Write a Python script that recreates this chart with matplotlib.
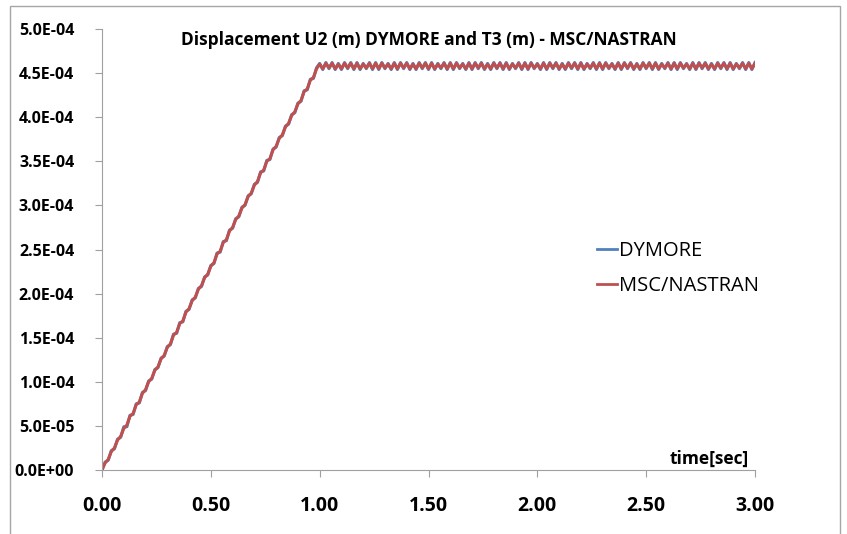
import matplotlib
matplotlib.use("Agg")
import matplotlib.pyplot as plt
import numpy as np
from matplotlib.patches import Rectangle

# time step of the samples (s): half period of the oscillation
dt = 1.0 / 70

# displacement values in micrometres
dymore_um = [
    0, 9, 11, 22, 24, 35, 37, 49, 49, 62,
    63, 75, 76, 88, 90, 101, 103, 114, 116, 127,
    129, 140, 142, 154, 155, 167, 168, 180, 182, 193,
    195, 206, 208, 219, 221, 232, 234, 246, 247, 259,
    260, 272, 274, 285, 287, 298, 300, 311, 313, 324,
    326, 338, 339, 351, 352, 364, 366, 377, 379, 390,
    392, 403, 405, 416, 418, 430, 431, 443, 444, 456,
    461,
    454, 462, 455, 462, 454, 461, 454, 462, 455, 462,
    454, 462, 454, 461, 455, 462, 454, 462, 454, 462,
    455, 461, 454, 462, 454, 462, 455, 462, 454, 461,
    454, 462, 455, 462, 454, 462, 454, 461, 455, 462,
    454, 462, 454, 462, 455, 461, 454, 462, 454, 462,
    455, 462, 454, 461, 454, 462, 455, 462, 454, 462,
    454, 461, 455, 462, 454, 462, 454, 462, 455, 461,
    454, 462, 454, 462, 455, 462, 454, 461, 454, 462,
    455, 462, 454, 462, 454, 461, 455, 462, 454, 462,
    454, 462, 455, 461, 454, 462, 454, 462, 455, 462,
    454, 461, 454, 462, 455, 462, 454, 462, 454, 461,
    455, 462, 454, 462, 454, 462, 455, 461, 454, 462,
    454, 462, 455, 462, 454, 461, 454, 462, 455, 462,
    454, 462, 454, 461, 455, 462, 454, 462, 454, 462,
]
nastran_um = [
    0, 8, 12, 21, 25, 34, 38, 47, 51, 61,
    64, 74, 77, 87, 91, 100, 104, 113, 117, 126,
    130, 139, 143, 153, 156, 166, 169, 179, 183, 192,
    196, 205, 209, 218, 222, 231, 235, 245, 248, 258,
    261, 271, 275, 284, 288, 297, 301, 310, 314, 323,
    327, 337, 340, 350, 353, 363, 367, 376, 380, 389,
    393, 402, 406, 415, 419, 429, 432, 442, 445, 455,
    460,
    455, 461, 456, 461, 455, 460, 455, 461, 456, 461,
    455, 461, 455, 460, 456, 461, 455, 461, 455, 461,
    456, 460, 455, 461, 455, 461, 456, 461, 455, 460,
    455, 461, 456, 461, 455, 461, 455, 460, 456, 461,
    455, 461, 455, 461, 456, 460, 455, 461, 455, 461,
    456, 461, 455, 460, 455, 461, 456, 461, 455, 461,
    455, 460, 456, 461, 455, 461, 455, 461, 456, 460,
    455, 461, 455, 461, 456, 461, 455, 460, 455, 461,
    456, 461, 455, 461, 455, 460, 456, 461, 455, 461,
    455, 461, 456, 460, 455, 461, 455, 461, 456, 461,
    455, 460, 455, 461, 456, 461, 455, 461, 455, 460,
    456, 461, 455, 461, 455, 461, 456, 460, 455, 461,
    455, 461, 456, 461, 455, 460, 455, 461, 456, 461,
    455, 461, 455, 460, 456, 461, 455, 461, 455, 461,
]

x_ticks = [0.0, 0.5, 1.0, 1.5, 2.0, 2.5, 3.0]
x_labels = ["0.00", "0.50", "1.00", "1.50", "2.00", "2.50", "3.00"]
y_ticks = [0, 5e-5, 1e-4, 1.5e-4, 2e-4, 2.5e-4, 3e-4, 3.5e-4, 4e-4, 4.5e-4, 5e-4]
y_labels = ["0.0E+00", "5.0E-05", "1.0E-04", "1.5E-04", "2.0E-04", "2.5E-04",
            "3.0E-04", "3.5E-04", "4.0E-04", "4.5E-04", "5.0E-04"]

plt.rcParams['font.family'] = ['Open Sans', 'DejaVu Sans']

t = np.arange(len(dymore_um)) * dt
u2 = np.array(dymore_um) * 1e-6
t3 = np.array(nastran_um) * 1e-6

fig = plt.figure(figsize=(8.47, 5.34), dpi=100)
fig.patches.append(Rectangle((10 / 847, -10 / 534), 830 / 847, 538 / 534,
                             transform=fig.transFigure, fill=False,
                             edgecolor='#A6A6A6', linewidth=1))
ax = fig.add_axes([102 / 847, 1 - 470 / 534, 653 / 847, 441 / 534])

ax.plot(t, u2, color='#4F81BD', linewidth=2.2, label='DYMORE')
ax.plot(t, t3, color='#C0504D', linewidth=2.2, label='MSC/NASTRAN')

ax.set_xlim(0, 3)
ax.set_ylim(0, 5e-4)
ax.set_xticks(x_ticks)
ax.set_xticklabels(x_labels, fontsize=14, fontweight='bold')
ax.set_yticks(y_ticks)
ax.set_yticklabels(y_labels, fontsize=11.5, fontweight='bold')
ax.tick_params(axis='x', direction='out', length=5, color='#A0A0A0', pad=14)
ax.tick_params(axis='y', direction='out', length=5, color='#A0A0A0', pad=15)
for s in ['top', 'right']:
    ax.spines[s].set_visible(False)
for s in ['left', 'bottom']:
    ax.spines[s].set_color('#A0A0A0')

ax.text(0.5, 0.975, 'Displacement U2 (m) DYMORE and T3 (m) - MSC/NASTRAN',
        transform=ax.transAxes, ha='center', va='center',
        fontsize=12.5, fontweight='bold')
ax.text(0.99, 0.005, 'time[sec]', transform=ax.transAxes, ha='right', va='bottom',
        fontsize=12.5, fontweight='bold')

leg = ax.legend(loc='upper left', bbox_to_anchor=(0.73, 0.56), frameon=False,
                fontsize=14.5, handlelength=1.0, handletextpad=0.1, labelspacing=0.75)
for line in leg.get_lines():
    line.set_linewidth(2)

fig.savefig('out.png', dpi=100)
